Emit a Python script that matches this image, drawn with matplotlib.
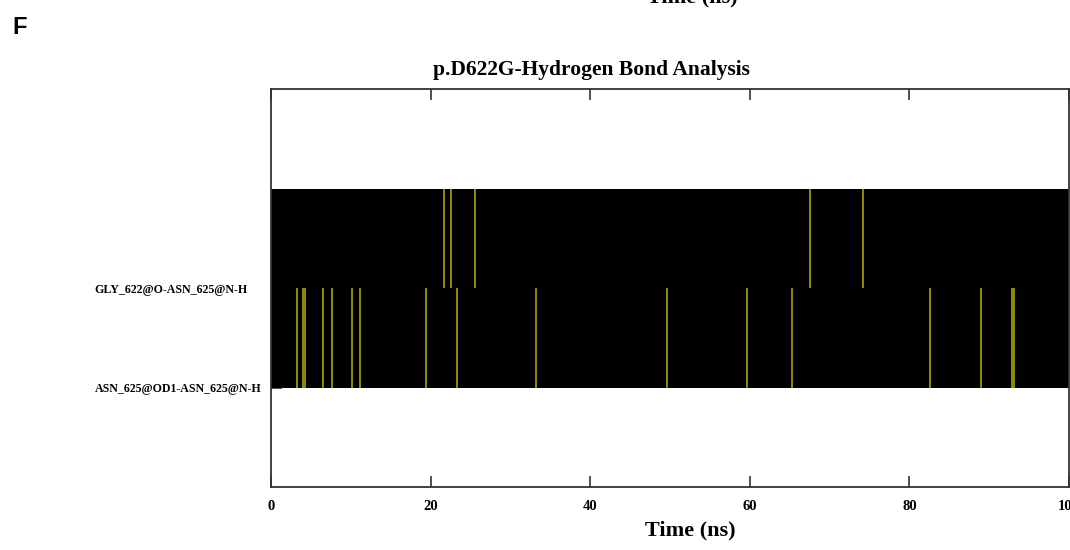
import matplotlib
matplotlib.use("Agg")
import matplotlib.pyplot as plt

# hydrogen bonds (bottom row first) and the times (ns) where the bond breaks
bond_names = ["ASN_625@OD1-ASN_625@N-H", "GLY_622@O-ASN_625@N-H"]
asn_breaks = [3.3, 4.05, 4.3, 6.55, 7.7, 10.15, 11.1, 19.4, 23.35, 33.25,
              49.6, 59.7, 65.3, 82.6, 89.0, 92.8, 93.05]
gly_breaks = [21.7, 22.5, 25.6, 67.5, 74.2]
bond_breaks = [asn_breaks, gly_breaks]
sim_time = 100
x_ticks = [0, 20, 40, 60, 80, 100]

serif = ["Liberation Serif", "DejaVu Serif"]

fig = plt.figure(figsize=(10.7, 5.5), dpi=100)
ax = fig.add_axes([271 / 1070, 1 - 487 / 550, 798 / 1070, 398 / 550])
ax.set_axisbelow(True)

# black background = bond present over the whole run
ax.barh(range(len(bond_names)), [sim_time] * len(bond_names), left=0,
        height=1, align="edge", color="black", zorder=1)
for row, times in enumerate(bond_breaks):
    ax.vlines(times, row, row + 1, color="#8e8e00", linewidth=1.4, zorder=2)

ax.set_xlim(0, sim_time)
ax.set_ylim(-1, 3)
ax.set_xticks(x_ticks)
ax.set_xticklabels([str(t) for t in x_ticks], fontfamily=serif,
                   fontweight="bold", fontsize=10.5)
ax.set_yticks(range(len(bond_names)))
ax.set_yticklabels(bond_names, fontfamily=serif, fontweight="bold",
                   fontsize=8.6)
for lbl in ax.get_yticklabels():
    lbl.set_horizontalalignment("left")

ax.tick_params(axis="x", direction="in", length=8, width=1.2, top=True,
               pad=9, colors="#333333", labelcolor="black")
ax.tick_params(axis="y", direction="in", length=8, width=1.2,
               pad=127, colors="#333333", labelcolor="black")
for sp in ax.spines.values():
    sp.set_linewidth(1.3)
    sp.set_color("#333333")
    sp.set_zorder(3)

ax.set_title("p.D622G-Hydrogen Bond Analysis", fontfamily=serif,
             fontweight="bold", fontsize=15.5, x=(591 - 271) / 798, pad=10)
ax.set_xlabel("Time (ns)", fontfamily=serif, fontweight="bold", fontsize=16)
ax.xaxis.set_label_coords((690 - 271) / 798, -0.085)

# panel letter and the cut-off axis label of the panel above
fig.text(12 / 1070, 1 - 27 / 550, "F", fontfamily="Liberation Sans",
         fontweight="bold", fontsize=17, va="center", ha="left")
fig.text(692 / 1070, 1 - 2 / 550, "Time (ns)", fontfamily=serif,
         fontweight="bold", fontsize=16, ha="center", va="baseline")

fig.savefig("out.png", dpi=100)
